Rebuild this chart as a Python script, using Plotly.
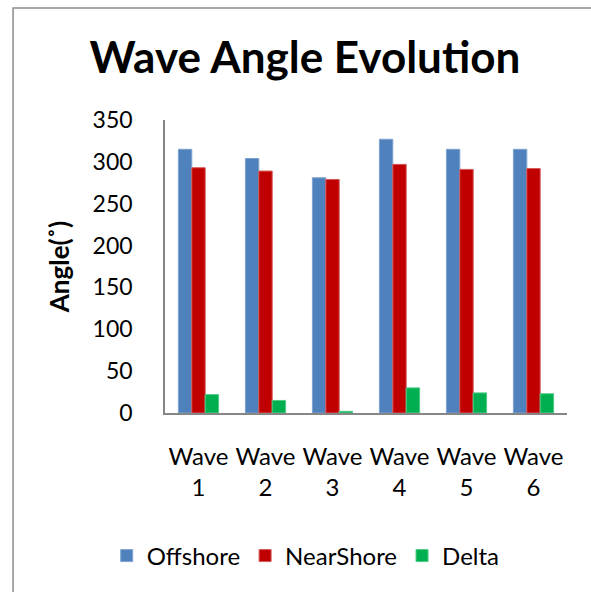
import plotly.graph_objects as go

# Wave angles (degrees) for each wave
categories = ["Wave<br>1", "Wave<br>2", "Wave<br>3", "Wave<br>4", "Wave<br>5", "Wave<br>6"]
offshore = [315, 304, 281, 327, 315, 315]
nearshore = [293, 289, 279, 297, 291, 292]
delta = [22, 15, 2, 30, 24, 23]

y_ticks = [0, 50, 100, 150, 200, 250, 300, 350]

FONT = "Lato"

fig = go.Figure()
fig.add_trace(go.Bar(name="Offshore", x=categories, y=offshore,
                     marker=dict(color="#4F81BD", line=dict(color="#7FA3D1", width=1))))
fig.add_trace(go.Bar(name="NearShore", x=categories, y=nearshore,
                     marker=dict(color="#C00000", line=dict(color="#D45A5A", width=1))))
fig.add_trace(go.Bar(name="Delta", x=categories, y=delta,
                     marker=dict(color="#00B050", line=dict(color="#4FCB85", width=1))))

# Outer chart frame (left and top edges visible; plot area spans x 165-567, y 120-413 px)
fig.add_shape(type="rect", xref="paper", yref="paper",
              x0=-0.378, x1=1.6, y0=-0.8, y1=1.382,
              line=dict(color="#8C8C8C", width=1.5), fillcolor="rgba(0,0,0,0)")

fig.update_layout(
    width=591, height=592,
    margin=dict(l=165, r=24, t=120, b=179),
    paper_bgcolor="white", plot_bgcolor="white",
    barmode="group", bargap=0.4, bargroupgap=0,
    font=dict(family=FONT, color="#000000", size=24),
    title=dict(text="<b>Wave Angle Evolution</b>", x=0.516, xanchor="center",
               y=0.902, yanchor="middle", font=dict(family=FONT, size=44, color="#000000")),
    xaxis=dict(showline=True, linecolor="#868686", linewidth=1.5, ticks="",
               tickfont=dict(size=24), showgrid=False, ticklabelstandoff=21),
    yaxis=dict(range=[0, 350], tickvals=y_ticks, showline=True, linecolor="#868686",
               linewidth=1.5, ticks="", showgrid=False, zeroline=False,
               tickfont=dict(size=23), ticklabelstandoff=26,
               title=dict(text="<b>Angle(˚)</b>", font=dict(size=26), standoff=16)),
    legend=dict(orientation="h", x=0.35, xanchor="center", y=-0.488, yanchor="middle",
                font=dict(size=24), traceorder="normal"),
    showlegend=True,
)

fig.write_html("out.html")
